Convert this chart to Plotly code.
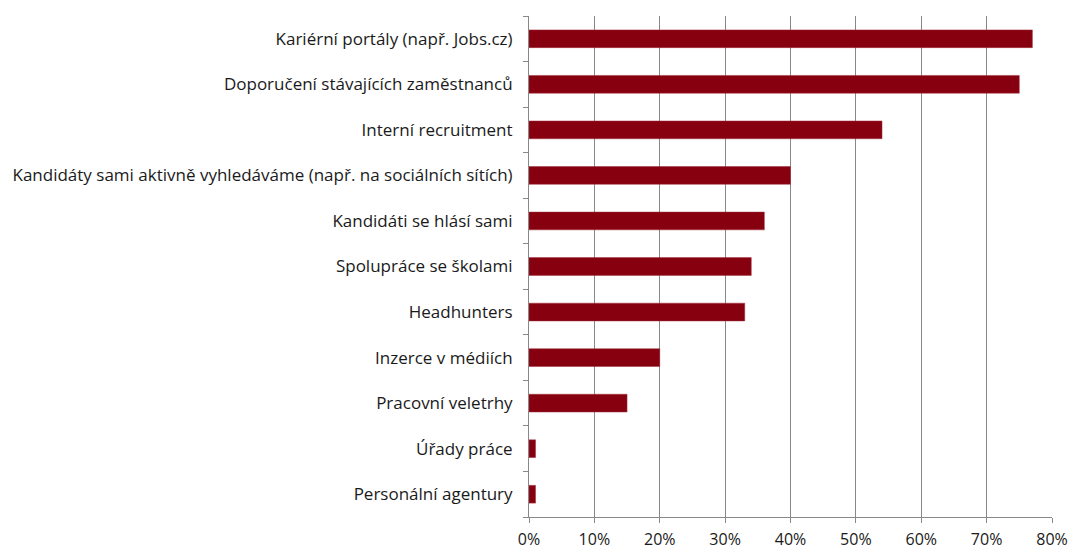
import plotly.graph_objects as go

categories = [
    "Kariérní portály (např. Jobs.cz)",
    "Doporučení stávajících zaměstnanců",
    "Interní recruitment",
    "Kandidáty sami aktivně vyhledáváme (např. na sociálních sítích)",
    "Kandidáti se hlásí sami",
    "Spolupráce se školami",
    "Headhunters",
    "Inzerce v médiích",
    "Pracovní veletrhy",
    "Úřady práce",
    "Personální agentury",
]
values = [0.77, 0.75, 0.54, 0.40, 0.36, 0.34, 0.33, 0.20, 0.15, 0.01, 0.01]
x_ticks = [0, 0.1, 0.2, 0.3, 0.4, 0.5, 0.6, 0.7, 0.8]
x_tick_labels = ["0%", "10%", "20%", "30%", "40%", "50%", "60%", "70%", "80%"]

fig = go.Figure(go.Bar(
    x=values,
    y=categories,
    orientation="h",
    marker=dict(color="#870010", line=dict(color="#a0303c", width=0.5)),
    hoverinfo="x+y",
))

font = dict(family="Open Sans, Calibri, sans-serif", size=17, color="#1a1a1a")
xfont = dict(family="Open Sans, Calibri, sans-serif", size=16, color="#1a1a1a")

fig.update_layout(
    width=1070,
    height=551,
    margin=dict(l=529, r=18, t=16, b=34),
    paper_bgcolor="white",
    plot_bgcolor="white",
    bargap=0.61,
    showlegend=False,
    font=font,
    xaxis=dict(
        range=[0, 0.8],
        tickvals=x_ticks,
        ticktext=x_tick_labels,
        showgrid=True,
        gridcolor="#888888",
        gridwidth=1,
        zeroline=False,
        showline=True,
        linecolor="#888888",
        ticks="outside",
        ticklen=5,
        tickcolor="#888888",
        tickfont=xfont,
        automargin=False,
        ticklabelstandoff=3,
    ),
    yaxis=dict(
        categoryorder="array",
        categoryarray=categories[::-1],
        autorange=True,
        showline=True,
        linecolor="#888888",
        ticks="outside",
        tickson="boundaries",
        ticklen=5,
        tickcolor="#888888",
        showgrid=False,
        ticklabelstandoff=12,
        tickfont=font,
        automargin=False,
    ),
)

fig.write_html("out.html")
